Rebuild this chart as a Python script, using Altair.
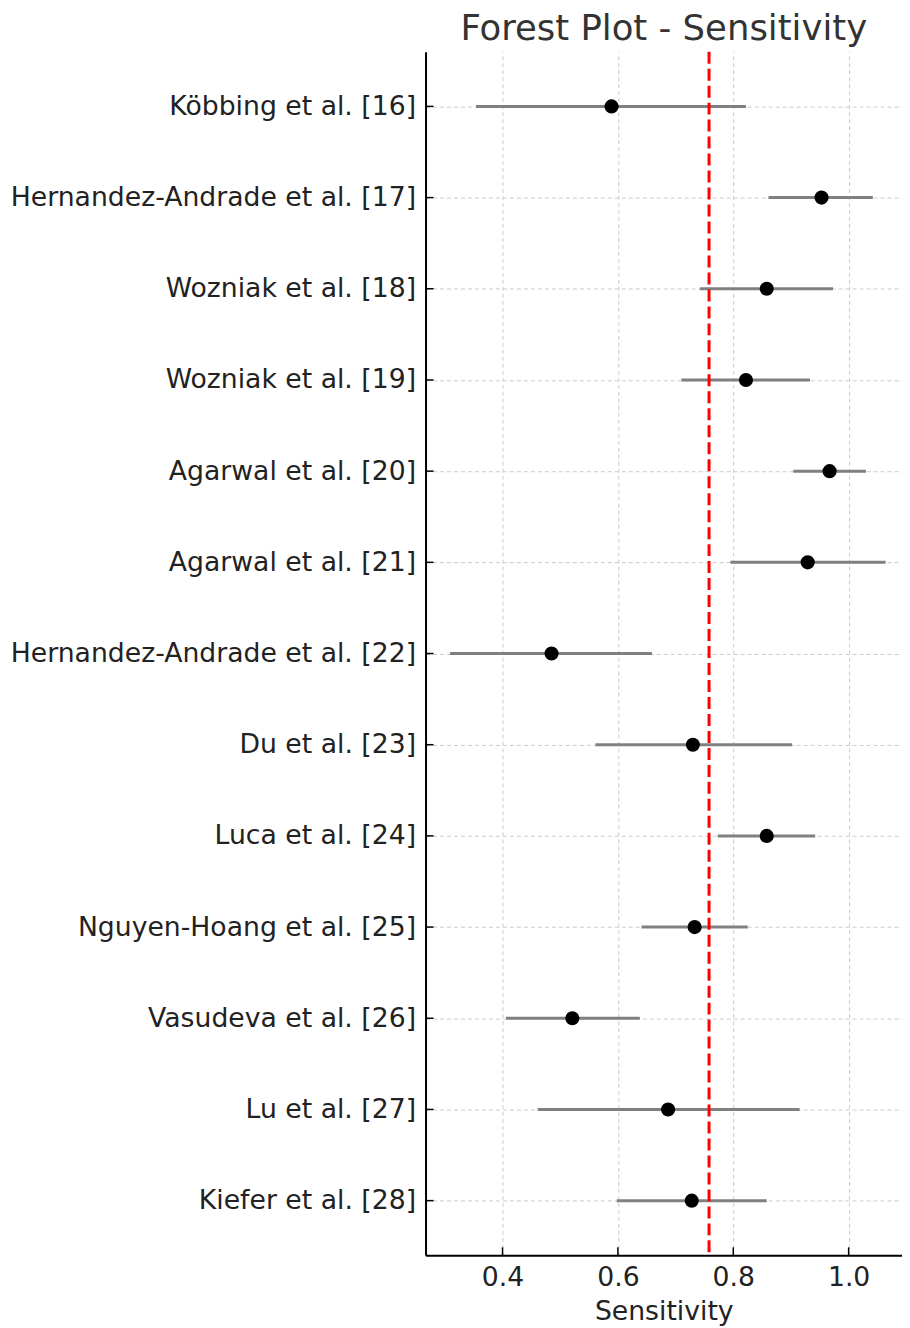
import altair as alt
import pandas as pd

studies = [
    "Köbbing et al. [16]",
    "Hernandez-Andrade et al. [17]",
    "Wozniak et al. [18]",
    "Wozniak et al. [19]",
    "Agarwal et al. [20]",
    "Agarwal et al. [21]",
    "Hernandez-Andrade et al. [22]",
    "Du et al. [23]",
    "Luca et al. [24]",
    "Nguyen-Hoang et al. [25]",
    "Vasudeva et al. [26]",
    "Lu et al. [27]",
    "Kiefer et al. [28]",
]
sensitivity = [0.589, 0.953, 0.858, 0.822, 0.967, 0.929, 0.485, 0.730, 0.858, 0.733, 0.521, 0.687, 0.728]
ci_low = [0.354, 0.861, 0.742, 0.710, 0.904, 0.795, 0.309, 0.561, 0.773, 0.641, 0.406, 0.461, 0.598]
ci_high = [0.822, 1.042, 0.973, 0.933, 1.030, 1.064, 0.659, 0.902, 0.942, 0.825, 0.638, 0.915, 0.858]
pooled = [0.758]
x_ticks = [0.4, 0.6, 0.8, 1.0]

W, H = 477, 1205
FONT = "DejaVu Sans"
FS = 26.7

df = pd.DataFrame({"study": studies, "sens": sensitivity, "lo": ci_low, "hi": ci_high})
pooled_df = pd.DataFrame({"pooled": pooled})
ticks_df = pd.DataFrame({"t": x_ticks})

xscale = alt.Scale(domain=[0.2665, 1.0925], nice=False, zero=False)
yscale = alt.Scale(type="point", padding=0.6, domain=studies)

base = alt.Chart(df)

bars = base.mark_rule(color="#808080", strokeWidth=3).encode(
    x=alt.X("lo:Q", scale=xscale,
            axis=alt.Axis(values=x_ticks, format=".1f", title="Sensitivity",
                          grid=True, gridDash=[4, 3], gridColor="#cccccc", gridWidth=1,
                          tickSize=0, labelPadding=9, titlePadding=8,
                          labelFont=FONT, titleFont=FONT, labelFontSize=FS, titleFontSize=FS,
                          labelColor="#222222", titleColor="#222222", titleFontWeight="normal",
                          domainColor="#000000", domainWidth=2)),
    x2="hi:Q",
    y=alt.Y("study:N", scale=yscale, sort=studies,
            axis=alt.Axis(title=None, grid=True, gridDash=[4, 3], gridColor="#cccccc",
                          gridWidth=1, tickSize=0, labelPadding=10, labelLimit=600,
                          labelFont=FONT, labelFontSize=FS, labelColor="#222222",
                          domainColor="#000000", domainWidth=2)),
)

points = base.mark_circle(color="#000000", opacity=1, size=200).encode(
    x=alt.X("sens:Q", scale=xscale),
    y=alt.Y("study:N", scale=yscale, sort=studies),
)

pooled_line = alt.Chart(pooled_df).mark_rule(
    color="#ff0000", strokeWidth=3, strokeDash=[12, 5]
).encode(x=alt.X("pooled:Q", scale=xscale))

yticks = base.mark_rule(color="#000000", strokeWidth=1.5).encode(
    x=alt.value(0), x2=alt.value(8),
    y=alt.Y("study:N", scale=yscale, sort=studies),
)

xticks = alt.Chart(ticks_df).mark_rule(color="#000000", strokeWidth=1.5).encode(
    x=alt.X("t:Q", scale=xscale), y=alt.value(H), y2=alt.value(H - 8),
)

chart = (
    alt.layer(bars, pooled_line, points, yticks, xticks)
    .properties(
        width=W, height=H,
        background="white",
        title=alt.TitleParams("Forest Plot - Sensitivity", fontSize=35.5, font=FONT,
                              color="#333333", fontWeight="normal", offset=3, anchor="middle"),
        padding={"left": 2, "top": 3, "right": 0, "bottom": 0},
    )
    .configure_view(stroke=None)
)

chart.save("out.html", embed_options={"renderer": "svg", "actions": False})
